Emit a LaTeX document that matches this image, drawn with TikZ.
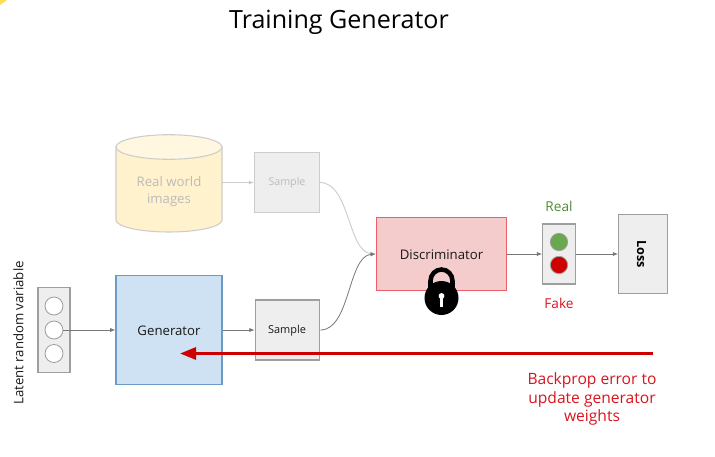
\documentclass[tikz,border=0pt]{standalone}
\usepackage{fontspec}
\setmainfont{Open Sans}
\usetikzlibrary{arrows.meta}
\definecolor{greytxt}{HTML}{BBBBBB}
\definecolor{boxfill}{HTML}{EEEEEE}
\definecolor{boxline}{HTML}{9E9E9E}
\definecolor{fadeline}{HTML}{CCCCCC}
\definecolor{genfill}{HTML}{CFE2F3}
\definecolor{genline}{HTML}{6C9BC8}
\definecolor{disfill}{HTML}{F4CCCC}
\definecolor{disline}{HTML}{E8606A}
\definecolor{cylfill}{HTML}{FFF2CC}
\definecolor{cyltop}{HTML}{FFF7E0}
\definecolor{errred}{HTML}{CC0000}
\definecolor{txtred}{HTML}{D9141E}
\definecolor{okgreen}{HTML}{6AA84F}
\definecolor{txtgreen}{HTML}{4E8A35}
\definecolor{conn}{HTML}{777777}
\tikzset{
  x=0.75pt,y=-0.75pt,
  lbl/.style={font=\fontsize{9.9pt}{11pt}\selectfont,text=black!90},
  plainbox/.style={draw=boxline,fill=boxfill,line width=0.8pt,inner sep=0pt},
  fadebox/.style={draw=fadeline,fill=boxfill,line width=0.8pt,inner sep=0pt,text=greytxt},
  dot/.style={circle,draw=#1,line width=0.6pt,minimum size=13.5pt,inner sep=0pt},
  link/.style={draw=conn,line width=0.6pt,-{Latex[length=4pt,width=3.2pt]}},
  fadelink/.style={draw=fadeline,line width=0.7pt,-{Latex[length=4pt,width=3.2pt,fill=greytxt]}},
}
\begin{document}
\begin{tikzpicture}
\useasboundingbox (0,0) rectangle (715,457);
% corner artefact
\fill[yellow!70!orange,opacity=.7] (0,0) -- (7,0) -- (0,5) -- cycle;

\node[font=\fontsize{18.8pt}{20pt}\selectfont,text=black] (title) at (339,22) {Training Generator};

% real images: cylinder
\filldraw[draw=fadeline,fill=cylfill,line width=0.8pt] (116,147) -- (116,220) arc[start angle=180,end angle=360,x radius=53,y radius=-12] -- (222,147) -- cycle;
\filldraw[draw=fadeline,fill=cyltop,line width=0.8pt] (169,147) ellipse[x radius=53,y radius=12.3];
\node[inner sep=0pt,minimum width=79.5pt,minimum height=73pt,font=\fontsize{9.9pt}{12.2pt}\selectfont,text=greytxt,align=center,text depth=0pt] (real) at (169,190) {Real world\\images};
\node[fadebox,minimum width=48.5pt,minimum height=45pt,font=\fontsize{8pt}{9pt}\selectfont] (s1) at (287,182.5) {Sample};

% generator row
\node[plainbox,minimum width=24pt,minimum height=63.5pt] (latent) at (54,330) {};
\node[dot=boxline,fill=white] (c1) at (54,306) {};
\node[dot=boxline,fill=white] (c2) at (54,330) {};
\node[dot=boxline,fill=white] (c3) at (54,353.5) {};
\node[font=\fontsize{9.9pt}{11pt}\selectfont,rotate=90,text=black!90] (lat) at (18.5,333) {Latent random variable};
\node[draw=genline,fill=genfill,line width=0.9pt,minimum width=79.5pt,minimum height=81.5pt,inner sep=0pt] (gen) at (169,330) {};
\node[lbl] (gentxt) at (169,330.5) {Generator};
\node[plainbox,minimum width=48.5pt,minimum height=45pt] (s2) at (287.5,330) {};
\node[font=\fontsize{8.2pt}{10pt}\selectfont,text=black!90] (s2txt) at (287,330.5) {Sample};

% discriminator
\node[draw=disline,fill=disfill,line width=0.9pt,minimum width=97.5pt,minimum height=54.5pt,inner sep=0pt] (dis) at (441.5,254) {};
\node[lbl] (distxt) at (441.5,254.5) {Discriminator};

% output
\node[plainbox,minimum width=24.5pt,minimum height=45pt] (out) at (559,254) {};
\node[dot=boxline,fill=okgreen,minimum size=13pt] (cg) at (559,242) {};
\node[dot=boxline,fill=errred,minimum size=13pt] (cr) at (559,265) {};
\node[font=\fontsize{10.2pt}{11pt}\selectfont,text=txtgreen] (realt) at (559,206) {Real};
\node[font=\fontsize{10.2pt}{11pt}\selectfont,text=txtred] (faket) at (559,303) {Fake};
\node[plainbox,minimum width=36.5pt,minimum height=59pt] (loss) at (643,254) {};
\node[font=\bfseries\fontsize{9.5pt}{10pt}\selectfont,rotate=-90,text=black] (losst) at (641.5,254) {Loss};

% connectors
\draw[fadelink] (real.east |- s1.west) -- (s1.west);
\draw[fadelink] (s1.east) .. controls +(30,0) and +(-28,-2) .. (dis.west);
\draw[link] (s2.east) .. controls +(30,0) and +(-28,2) .. (dis.west);
\draw[link] (c2.east) -- (gen.west);
\draw[link] (gen.east) -- (s2.west);
\draw[link] (dis.east) -- (out.west);
\draw[link] (out.east) -- (loss.west);

% lock
\coordinate (lock) at (441.5,298);
\draw[line width=3.4pt,black] (430.5,298) -- (430.5,281) arc[start angle=180,end angle=0,x radius=11,y radius=-11.5] -- (452.5,298);
\fill[black] (441.5,298) circle[radius=12.75pt];
\fill[white] (441.5,296) circle[radius=2.2pt];
\fill[white] (440.2,296) rectangle (442.8,307);

% error arrow
\coordinate (errstart) at (653,353.5);
\coordinate (errend) at (180,353.5);
\draw[draw=errred,line width=2.2pt,-{Triangle[length=12pt,width=9pt,fill=errred]}] (errstart) -- (errend);
\node[font=\fontsize{11.7pt}{14.2pt}\selectfont,text=txtred,align=center] (errtxt) at (592,399) {Backprop error to\\update generator\\weights};
\end{tikzpicture}
\end{document}
